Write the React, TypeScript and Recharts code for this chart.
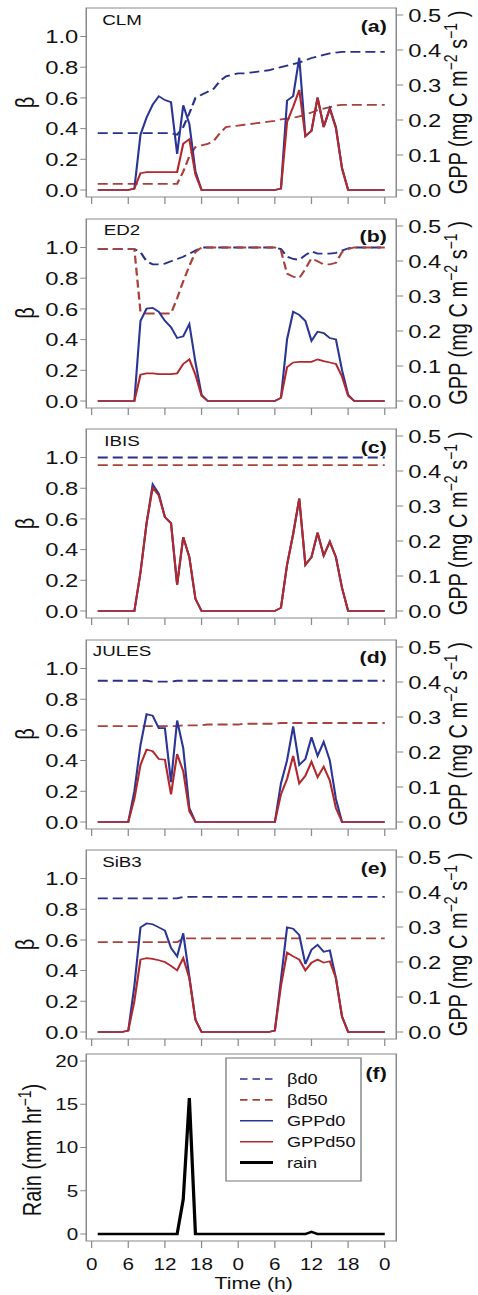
import React from 'react'
import { LineChart, Line, XAxis, YAxis, ReferenceArea } from 'recharts'

// hourly time steps over two days
const HOURS = [
  1, 2, 3, 4, 5, 6, 7, 8, 9, 10, 11, 12, 13, 14, 15, 16, 17, 18, 19, 20, 21, 22, 23, 24,
  25, 26, 27, 28, 29, 30, 31, 32, 33, 34, 35, 36, 37, 38, 39, 40, 41, 42, 43, 44, 45, 46, 47, 48,
]
const X_TICKS = [0, 6, 12, 18, 24, 30, 36, 42, 48]
const BETA_TICKS = [0, 0.2, 0.4, 0.6, 0.8, 1.0]
const GPP_TICKS = [0, 0.1, 0.2, 0.3, 0.4, 0.5]
const RAIN_TICKS = [0, 5, 10, 15, 20]

// CLM
const CLM_BD0 = [
  0.37, 0.37, 0.37, 0.37, 0.37, 0.37, 0.37, 0.37, 0.37, 0.37, 0.37, 0.37,
  0.37, 0.36, 0.41, 0.5, 0.6, 0.62, 0.64, 0.66, 0.71, 0.74, 0.75, 0.76,
  0.76, 0.765, 0.77, 0.775, 0.78, 0.79, 0.8, 0.81, 0.82, 0.83, 0.845, 0.86,
  0.87, 0.88, 0.89, 0.895, 0.9, 0.9, 0.9, 0.9, 0.9, 0.9, 0.9, 0.9,
]
const CLM_BD50 = [
  0.04, 0.04, 0.04, 0.04, 0.04, 0.04, 0.04, 0.04, 0.04, 0.04, 0.04, 0.04,
  0.04, 0.04, 0.12, 0.22, 0.28, 0.29, 0.3, 0.32, 0.37, 0.41, 0.415, 0.42,
  0.425, 0.43, 0.435, 0.44, 0.445, 0.45, 0.46, 0.465, 0.47, 0.48, 0.49, 0.505,
  0.52, 0.53, 0.54, 0.55, 0.555, 0.555, 0.555, 0.555, 0.555, 0.555, 0.555, 0.555,
]
const CLM_GPP0 = [
  0, 0, 0, 0, 0, 0, 0.004, 0.158, 0.207, 0.244, 0.268, 0.257,
  0.251, 0.103, 0.242, 0.189, 0.053, 0, 0, 0, 0, 0, 0, 0,
  0, 0, 0, 0, 0, 0, 0.004, 0.255, 0.268, 0.378, 0.154, 0.169,
  0.264, 0.18, 0.233, 0.18, 0.062, 0, 0, 0, 0, 0, 0, 0,
]
const CLM_GPP50 = [
  0, 0, 0, 0, 0, 0, 0.004, 0.048, 0.051, 0.051, 0.051, 0.051,
  0.051, 0.051, 0.132, 0.145, 0.044, 0, 0, 0, 0, 0, 0, 0,
  0, 0, 0, 0, 0, 0, 0.004, 0.194, 0.238, 0.286, 0.154, 0.169,
  0.264, 0.18, 0.233, 0.176, 0.062, 0, 0, 0, 0, 0, 0, 0,
]

// ED2
const ED2_BD0 = [
  0.99, 0.99, 0.99, 0.99, 0.99, 0.99, 0.99, 0.97, 0.91, 0.89, 0.89, 0.895,
  0.91, 0.925, 0.94, 0.96, 0.98, 1.0, 1.0, 1.0, 1.0, 1.0, 1.0, 1.0,
  1.0, 1.0, 1.0, 1.0, 1.0, 1.0, 0.99, 0.94, 0.925, 0.92, 0.95, 0.975,
  0.96, 0.96, 0.96, 0.965, 0.98, 0.995, 1.0, 1.0, 1.0, 1.0, 1.0, 1.0,
]
const ED2_BD50 = [
  0.99, 0.99, 0.99, 0.99, 0.99, 0.99, 0.99, 0.58, 0.57, 0.57, 0.57, 0.57,
  0.57, 0.67, 0.78, 0.88, 0.97, 1.0, 1.0, 1.0, 1.0, 1.0, 1.0, 1.0,
  1.0, 1.0, 1.0, 1.0, 1.0, 1.0, 0.98, 0.83, 0.81, 0.8, 0.86, 0.93,
  0.91, 0.89, 0.89, 0.9, 0.97, 0.99, 1.0, 1.0, 1.0, 1.0, 1.0, 1.0,
]
const ED2_GPP0 = [
  0, 0, 0, 0, 0, 0, 0, 0.229, 0.264, 0.266, 0.255, 0.229,
  0.211, 0.18, 0.185, 0.22, 0.11, 0.018, 0, 0, 0, 0, 0, 0,
  0, 0, 0, 0, 0, 0, 0.009, 0.176, 0.255, 0.246, 0.229, 0.172,
  0.198, 0.194, 0.18, 0.176, 0.088, 0.018, 0, 0, 0, 0, 0, 0,
]
const ED2_GPP50 = [
  0, 0, 0, 0, 0, 0, 0, 0.075, 0.079, 0.079, 0.077, 0.077,
  0.077, 0.079, 0.106, 0.119, 0.075, 0.015, 0, 0, 0, 0, 0, 0,
  0, 0, 0, 0, 0, 0, 0.009, 0.097, 0.11, 0.112, 0.112, 0.112,
  0.119, 0.114, 0.11, 0.106, 0.07, 0.015, 0, 0, 0, 0, 0, 0,
]

// IBIS
const IBIS_BD0 = [
  1.0, 1.0, 1.0, 1.0, 1.0, 1.0, 1.0, 1.0, 1.0, 1.0, 1.0, 1.0,
  1.0, 1.0, 1.0, 1.0, 1.0, 1.0, 1.0, 1.0, 1.0, 1.0, 1.0, 1.0,
  1.0, 1.0, 1.0, 1.0, 1.0, 1.0, 1.0, 1.0, 1.0, 1.0, 1.0, 1.0,
  1.0, 1.0, 1.0, 1.0, 1.0, 1.0, 1.0, 1.0, 1.0, 1.0, 1.0, 1.0,
]
const IBIS_BD50 = [
  0.95, 0.95, 0.95, 0.95, 0.95, 0.95, 0.95, 0.95, 0.95, 0.95, 0.95, 0.95,
  0.95, 0.95, 0.95, 0.95, 0.95, 0.95, 0.95, 0.95, 0.95, 0.95, 0.95, 0.95,
  0.95, 0.95, 0.95, 0.95, 0.95, 0.95, 0.95, 0.95, 0.95, 0.95, 0.95, 0.95,
  0.95, 0.95, 0.95, 0.95, 0.95, 0.95, 0.95, 0.95, 0.95, 0.95, 0.95, 0.95,
]
const IBIS_GPP0 = [
  0, 0, 0, 0, 0, 0, 0, 0.11, 0.251, 0.362, 0.335, 0.268,
  0.251, 0.075, 0.211, 0.154, 0.035, 0, 0, 0, 0, 0, 0, 0,
  0, 0, 0, 0, 0, 0, 0.009, 0.132, 0.22, 0.321, 0.132, 0.154,
  0.224, 0.158, 0.198, 0.154, 0.066, 0, 0, 0, 0, 0, 0, 0,
]
const IBIS_GPP50 = [
  0, 0, 0, 0, 0, 0, 0, 0.11, 0.251, 0.352, 0.33, 0.268,
  0.251, 0.075, 0.211, 0.154, 0.035, 0, 0, 0, 0, 0, 0, 0,
  0, 0, 0, 0, 0, 0, 0.009, 0.132, 0.22, 0.321, 0.132, 0.154,
  0.224, 0.158, 0.198, 0.154, 0.066, 0, 0, 0, 0, 0, 0, 0,
]

// JULES
const JULES_BD0 = [
  0.92, 0.92, 0.92, 0.92, 0.92, 0.92, 0.92, 0.92, 0.92, 0.915, 0.915, 0.915,
  0.915, 0.92, 0.92, 0.92, 0.92, 0.92, 0.92, 0.92, 0.92, 0.92, 0.92, 0.92,
  0.92, 0.92, 0.92, 0.92, 0.92, 0.92, 0.92, 0.92, 0.92, 0.92, 0.92, 0.92,
  0.92, 0.92, 0.92, 0.92, 0.92, 0.92, 0.92, 0.92, 0.92, 0.92, 0.92, 0.92,
]
const JULES_BD50 = [
  0.625, 0.625, 0.625, 0.625, 0.625, 0.625, 0.625, 0.625, 0.625, 0.625, 0.625, 0.625,
  0.625, 0.625, 0.63, 0.63, 0.63, 0.63, 0.635, 0.635, 0.635, 0.635, 0.635, 0.635,
  0.64, 0.64, 0.64, 0.64, 0.64, 0.64, 0.645, 0.645, 0.645, 0.645, 0.645, 0.645,
  0.645, 0.645, 0.645, 0.645, 0.645, 0.645, 0.645, 0.645, 0.645, 0.645, 0.645, 0.645,
]
const JULES_GPP0 = [
  0, 0, 0, 0, 0, 0, 0.088, 0.22, 0.308, 0.304, 0.268, 0.268,
  0.114, 0.29, 0.211, 0.04, 0, 0, 0, 0, 0, 0, 0, 0,
  0, 0, 0, 0, 0, 0, 0.11, 0.176, 0.273, 0.163, 0.18, 0.242,
  0.189, 0.229, 0.176, 0.066, 0, 0, 0, 0, 0, 0, 0, 0,
]
const JULES_GPP50 = [
  0, 0, 0, 0, 0, 0, 0.066, 0.163, 0.207, 0.202, 0.18, 0.178,
  0.079, 0.194, 0.145, 0.031, 0, 0, 0, 0, 0, 0, 0, 0,
  0, 0, 0, 0, 0, 0, 0.079, 0.123, 0.189, 0.11, 0.132, 0.172,
  0.128, 0.158, 0.119, 0.04, 0, 0, 0, 0, 0, 0, 0, 0,
]

// SiB3
const SIB_BD0 = [
  0.87, 0.87, 0.87, 0.87, 0.87, 0.87, 0.87, 0.87, 0.87, 0.87, 0.87, 0.87,
  0.87, 0.87, 0.88, 0.88, 0.88, 0.88, 0.88, 0.88, 0.88, 0.88, 0.88, 0.88,
  0.88, 0.88, 0.88, 0.88, 0.88, 0.88, 0.88, 0.88, 0.88, 0.88, 0.88, 0.88,
  0.88, 0.88, 0.88, 0.88, 0.88, 0.88, 0.88, 0.88, 0.88, 0.88, 0.88, 0.88,
]
const SIB_BD50 = [
  0.585, 0.585, 0.585, 0.585, 0.585, 0.585, 0.585, 0.585, 0.585, 0.585, 0.585, 0.585,
  0.585, 0.585, 0.61, 0.61, 0.61, 0.61, 0.61, 0.61, 0.61, 0.61, 0.61, 0.61,
  0.61, 0.61, 0.61, 0.61, 0.61, 0.61, 0.61, 0.61, 0.61, 0.61, 0.61, 0.61,
  0.61, 0.61, 0.61, 0.61, 0.61, 0.61, 0.61, 0.61, 0.61, 0.61, 0.61, 0.61,
]
const SIB_GPP0 = [
  0, 0, 0, 0, 0, 0.004, 0.132, 0.299, 0.31, 0.308, 0.299, 0.29,
  0.24, 0.216, 0.282, 0.158, 0.035, 0, 0, 0, 0, 0, 0, 0,
  0, 0, 0, 0, 0, 0.004, 0.15, 0.299, 0.295, 0.277, 0.194, 0.235,
  0.249, 0.229, 0.233, 0.154, 0.044, 0, 0, 0, 0, 0, 0, 0,
]
const SIB_GPP50 = [
  0, 0, 0, 0, 0, 0.004, 0.088, 0.207, 0.211, 0.209, 0.205, 0.2,
  0.189, 0.176, 0.211, 0.154, 0.035, 0, 0, 0, 0, 0, 0, 0,
  0, 0, 0, 0, 0, 0.004, 0.132, 0.227, 0.216, 0.207, 0.176, 0.198,
  0.207, 0.198, 0.202, 0.154, 0.044, 0, 0, 0, 0, 0, 0, 0,
]

// rain (mm/hr)
const RAIN = [
  0, 0, 0, 0, 0, 0, 0, 0, 0, 0, 0, 0,
  0, 0, 4.0, 15.7, 0, 0, 0, 0, 0, 0, 0, 0,
  0, 0, 0, 0, 0, 0, 0, 0, 0, 0, 0, 0.25,
  0, 0, 0, 0, 0, 0, 0, 0, 0, 0, 0, 0,
]

const LEGEND_ITEMS = [
  { label: 'βd0', color: '#27308a', dash: true, width: 1.6 },
  { label: 'βd50', color: '#a8413b', dash: true, width: 1.6 },
  { label: 'GPPd0', color: '#2b3596', dash: false, width: 1.6 },
  { label: 'GPPd50', color: '#b3282d', dash: false, width: 1.6 },
  { label: 'rain', color: '#000', dash: false, width: 3 },
]

// the source figure is horizontally stretched, so everything is drawn narrow and scaled
const SX = 1.25
const W = 382
const LEFT_W = 69
const RIGHT_W = 65
const FONT = '"Liberation Sans", Arial, sans-serif'
const AXIS = '#8a8a8a'
const BLUE = '#2b3596'
const RED = '#b3282d'
const BLUE_D = '#27308a'
const RED_D = '#a8413b'

const X_DOMAIN = [-0.88, 49.88]
const BETA_DOMAIN = [-0.0456, 1.1856]
const GPP_DOMAIN = [-0.02, 0.52]
const RAIN_DOMAIN = [-0.8, 20.8]

const BOX_TOPS = [8, 218.5, 429, 639.5, 850]
const BOX_H = 189

const PANELS = [
  { name: 'CLM', tag: '(a)', bd0: CLM_BD0, bd50: CLM_BD50, g0: CLM_GPP0, g50: CLM_GPP50 },
  { name: 'ED2', tag: '(b)', bd0: ED2_BD0, bd50: ED2_BD50, g0: ED2_GPP0, g50: ED2_GPP50 },
  { name: 'IBIS', tag: '(c)', bd0: IBIS_BD0, bd50: IBIS_BD50, g0: IBIS_GPP0, g50: IBIS_GPP50 },
  { name: 'JULES', tag: '(d)', bd0: JULES_BD0, bd50: JULES_BD50, g0: JULES_GPP0, g50: JULES_GPP50 },
  { name: 'SiB3', tag: '(e)', bd0: SIB_BD0, bd50: SIB_BD50, g0: SIB_GPP0, g50: SIB_GPP50 },
]

const fmt1 = (v: number) => v.toFixed(1)
const tickStyle = { fill: '#111', fontSize: 19 }

function ModelPanel({ p, top }: { p: any; top: number }) {
  const rows = HOURS.map((h, i) => ({ h, bd0: p.bd0[i], bd50: p.bd50[i], g0: p.g0[i], g50: p.g50[i] }))
  return (
    <div style={{ position: 'absolute', left: 0, top: top - 8 }}>
      <LineChart width={W} height={210} data={rows} margin={{ top: 8, right: 0, bottom: 0, left: 0 }}>
        <XAxis dataKey="h" type="number" domain={X_DOMAIN} ticks={X_TICKS} allowDataOverflow
          tickFormatter={() => ''} height={13} tickSize={7} axisLine={false} tickLine={{ stroke: AXIS }} />
        <YAxis yAxisId="b" domain={BETA_DOMAIN} ticks={BETA_TICKS} allowDataOverflow width={LEFT_W}
          tickFormatter={fmt1} tick={tickStyle} tickSize={4.8} tickMargin={1.6}
          axisLine={false} tickLine={{ stroke: AXIS }} />
        <YAxis yAxisId="g" orientation="right" domain={GPP_DOMAIN} ticks={GPP_TICKS} allowDataOverflow width={RIGHT_W}
          tickFormatter={fmt1} tick={tickStyle} tickSize={5.6} tickMargin={4}
          axisLine={false} tickLine={{ stroke: AXIS }} />
        <ReferenceArea yAxisId="b" x1={X_DOMAIN[0]} x2={X_DOMAIN[1]} y1={BETA_DOMAIN[0]} y2={BETA_DOMAIN[1]}
          fill="none" stroke={AXIS} strokeWidth={1.2} ifOverflow="visible" />
        <Line yAxisId="b" dataKey="bd0" stroke={BLUE_D} strokeWidth={1.8} strokeDasharray="8 4" dot={false} isAnimationActive={false} />
        <Line yAxisId="b" dataKey="bd50" stroke={RED_D} strokeWidth={1.8} strokeDasharray="8 4" dot={false} isAnimationActive={false} />
        <Line yAxisId="g" dataKey="g0" stroke={BLUE} strokeWidth={1.7} dot={false} isAnimationActive={false} />
        <Line yAxisId="g" dataKey="g50" stroke={RED} strokeWidth={1.7} dot={false} isAnimationActive={false} />
      </LineChart>
    </div>
  )
}

function RainPanel() {
  const rows = HOURS.map((h, i) => ({ h, rain: RAIN[i] }))
  return (
    <div style={{ position: 'absolute', left: 0, top: 1046 }}>
      <LineChart width={W} height={249} data={rows} margin={{ top: 8, right: RIGHT_W, bottom: 0, left: 0 }}>
        <XAxis dataKey="h" type="number" domain={X_DOMAIN} ticks={X_TICKS} allowDataOverflow
          tickFormatter={(v: number) => String(v % 24)} height={54} tickSize={7} tickMargin={10}
          tick={{ fill: '#111', fontSize: 16.5 }} axisLine={false} tickLine={{ stroke: AXIS }} />
        <YAxis domain={RAIN_DOMAIN} ticks={RAIN_TICKS} allowDataOverflow width={LEFT_W}
          tick={{ fill: '#111', fontSize: 16.5 }} tickSize={4.8} tickMargin={1.6}
          axisLine={false} tickLine={{ stroke: AXIS }} />
        <ReferenceArea x1={X_DOMAIN[0]} x2={X_DOMAIN[1]} y1={RAIN_DOMAIN[0]} y2={RAIN_DOMAIN[1]}
          fill="none" stroke={AXIS} strokeWidth={1.2} ifOverflow="visible" />
        <Line dataKey="rain" stroke="#000" strokeWidth={2.6} dot={false} isAnimationActive={false} />
      </LineChart>
    </div>
  )
}

function Overlay() {
  const legX = 180.8
  const legY = 1058
  return (
    <svg width={W} height={1295} style={{ position: 'absolute', left: 0, top: 0, pointerEvents: 'none' }}>
      {PANELS.map((p, i) => {
        const t = BOX_TOPS[i]
        const cy = t + BOX_H / 2
        return (
          <g key={p.name}>
            <text x={97.6} y={t + 17} fontSize={15} textAnchor="middle" fill="#111">{p.name}</text>
            <text x={309.4} y={t + 24} fontSize={17} fontWeight="bold" textAnchor="end" fill="#111">{p.tag}</text>
            <text x={27.5} y={cy} fontSize={20} textAnchor="middle" fill="#111" transform={`rotate(-90 27.5 ${cy})`}>β</text>
            <text x={373.6} y={cy} fontSize={20} textAnchor="middle" fill="#111" transform={`rotate(-90 373.6 ${cy})`}>
              GPP (mg C m<tspan dy={-8} fontSize={14}>−2</tspan><tspan dy={8}> s</tspan>
              <tspan dy={-8} fontSize={14}>−1</tspan><tspan dy={8}> )</tspan>
            </text>
          </g>
        )
      })}
      <text x={309.4} y={1079} fontSize={17} fontWeight="bold" textAnchor="end" fill="#111">(f)</text>
      <text x={33} y={1150} fontSize={20} textAnchor="middle" fill="#111" transform="rotate(-90 33 1150)">
        Rain (mm hr<tspan dy={-8} fontSize={14}>−1</tspan><tspan dy={8}>)</tspan>
      </text>
      <text x={203} y={1289} fontSize={17} textAnchor="middle" fill="#111">Time (h)</text>
      <rect x={legX} y={legY} width={108} height={123} fill="#fff" stroke={AXIS} strokeWidth={1.2} />
      {LEGEND_ITEMS.map((it, i) => {
        const y = legY + 21 + i * 20.9
        return (
          <g key={it.label}>
            <line x1={legX + 11.2} x2={legX + 37.6} y1={y} y2={y} stroke={it.color} strokeWidth={it.width}
              strokeDasharray={it.dash ? '6 4' : undefined} />
            <text x={legX + 48.8} y={y + 5} fontSize={14.5} fill="#111">{it.label}</text>
          </g>
        )
      })}
    </svg>
  )
}

export default function App() {
  return (
    <div style={{ position: 'absolute', left: 0, top: 0, width: W, height: 1295, transform: `scaleX(${SX})`,
      transformOrigin: '0 0', fontFamily: FONT, background: '#fff' }}>
      {PANELS.map((p, i) => (
        <ModelPanel key={p.name} p={p} top={BOX_TOPS[i]} />
      ))}
      <RainPanel />
      <Overlay />
    </div>
  )
}
